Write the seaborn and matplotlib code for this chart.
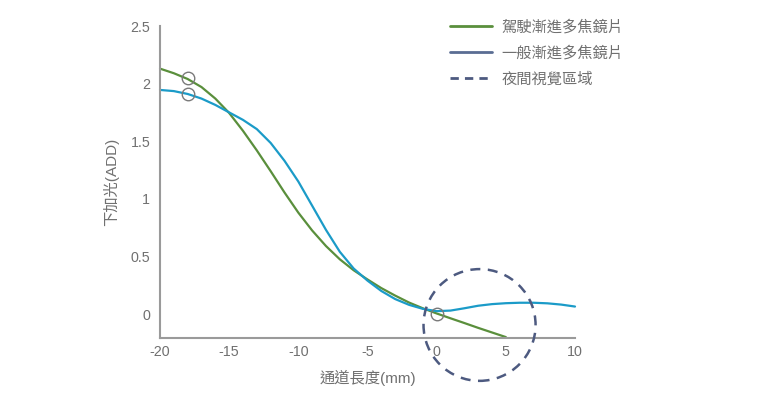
import numpy as np
import pandas as pd
import seaborn as sb
import matplotlib.pyplot as plt
from matplotlib.lines import Line2D
from matplotlib.patches import Ellipse

# curve values (x in mm, y = ADD)
x_drive = [-20, -19, -18, -17, -16, -15, -14, -13, -12, -11, -10, -9, -8, -7, -6, -5,
           -4, -3, -2, -1, 0, 1, 2, 3, 4, 5]
y_drive = [2.13, 2.09, 2.04, 1.97, 1.87, 1.745, 1.59, 1.42, 1.24, 1.055, 0.88, 0.725, 0.59,
           0.475, 0.38, 0.30, 0.225, 0.16, 0.10, 0.05, 0.005, -0.037, -0.078, -0.12, -0.16, -0.20]

x_normal = [-20, -19, -18, -17, -16, -15, -14, -13, -12, -11, -10, -9, -8, -7, -6, -5,
            -4, -3, -2, -1, 0, 1, 2, 3, 4, 5, 6, 7, 8, 9, 10]
y_normal = [1.945, 1.935, 1.91, 1.87, 1.815, 1.75, 1.685, 1.605, 1.485, 1.33, 1.15, 0.94, 0.73,
            0.54, 0.395, 0.29, 0.20, 0.13, 0.08, 0.045, 0.025, 0.03, 0.05, 0.072, 0.086, 0.094,
            0.098, 0.098, 0.093, 0.082, 0.065]

# open circle markers
mark_x = [-18, -18, 0]
mark_y = [2.05, 1.91, 0.0]

# night vision zone (dashed circle): centre and size in data units
zone_center = (3.1, -0.095)
zone_w = 8.1
zone_h = 0.97

x_ticks = [-20, -15, -10, -5, 0, 5, 10]
y_ticks = [0, 0.5, 1, 1.5, 2, 2.5]
y_ticklabels = ["0", "0.5", "1", "1.5", "2", "2.5"]

legend_labels = ["駕駛漸進多焦鏡片", "一般漸進多焦鏡片", "夜間視覺區域"]

green = "#5a8f3c"
blue = "#1b9bc8"
slate = "#5a6d93"
navy = "#4d5a80"
grey_txt = "#707070"
axis_grey = "#9a9a9a"

sb.set_style("white")
plt.rcParams['font.family'] = ['Liberation Sans', 'Noto Sans CJK TC', 'DejaVu Sans']

df_drive = pd.DataFrame({"x": x_drive, "y": y_drive})
df_normal = pd.DataFrame({"x": x_normal, "y": y_normal})

fig = plt.figure(figsize=(7.6, 3.95), dpi=100)
ax = fig.add_axes([160 / 760, 57 / 395, 415 / 760, 312 / 395])

sb.lineplot(data=df_drive, x="x", y="y", ax=ax, color=green, linewidth=1.6, clip_on=False)
sb.lineplot(data=df_normal, x="x", y="y", ax=ax, color=blue, linewidth=1.6, clip_on=False)

ax.plot(mark_x, mark_y, linestyle="none", marker="o", markersize=9, markerfacecolor="none",
        markeredgecolor="#7a7a7a", markeredgewidth=1.0, clip_on=False, zorder=5)

zone = Ellipse(zone_center, zone_w, zone_h, fill=False, edgecolor=navy, linewidth=1.8,
               linestyle=(0, (4, 3)), clip_on=False, zorder=4)
ax.add_patch(zone)

ax.set_xlim(-20, 10)
ax.set_ylim(-0.208, 2.5)
ax.set_xticks(x_ticks)
ax.set_xticklabels([str(v) for v in x_ticks])
ax.set_yticks(y_ticks)
ax.set_yticklabels(y_ticklabels)

for side in ["top", "right"]:
    ax.spines[side].set_visible(False)
for side in ["left", "bottom"]:
    ax.spines[side].set_color(axis_grey)
    ax.spines[side].set_linewidth(1.5)

ax.tick_params(axis="both", direction="in", length=11, width=1.3, color=axis_grey,
               labelsize=10.3, labelcolor=grey_txt)
ax.tick_params(axis="y", pad=7)
ax.tick_params(axis="x", pad=5)

ax.set_xlabel("通道長度(mm)", fontsize=11, color=grey_txt, labelpad=8)
ax.set_ylabel("下加光(ADD)", fontsize=11, color=grey_txt, labelpad=8)

handles = [Line2D([], [], color=green, linewidth=2),
           Line2D([], [], color=slate, linewidth=2),
           Line2D([], [], color=navy, linewidth=2, linestyle=(0, (3, 2.2)))]
fig.legend(handles, legend_labels, loc="upper left", bbox_to_anchor=(436 / 760, 1 - 6 / 395),
           frameon=False, fontsize=11, labelcolor=grey_txt, handlelength=2.75,
           handletextpad=0.65, labelspacing=0.75)

fig.savefig("out.png", dpi=100)
